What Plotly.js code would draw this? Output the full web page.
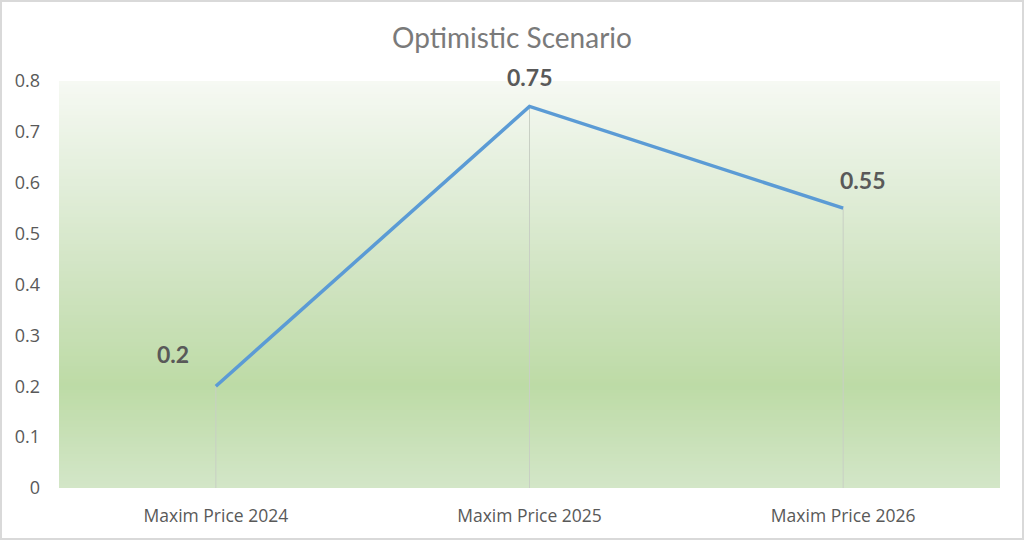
<!DOCTYPE html>
<html>
<head>
<meta charset="utf-8">
<script src="https://cdn.plot.ly/plotly-3.0.1.min.js"></script>
<style>
  html, body { margin: 0; padding: 0; background: #fff; }
  #wrap { position: relative; width: 1024px; height: 540px; }
  #chart { width: 1024px; height: 540px; }
  #frame { position: absolute; left: 0; top: 0; width: 1024px; height: 540px; box-sizing: border-box; border: 2px solid #d9d9d9; pointer-events: none; }
</style>
</head>
<body>
<div id="wrap"><div id="chart"></div><div id="frame"></div></div>
<script>
// ---- data ----
const categories = ["Maxim Price 2024", "Maxim Price 2025", "Maxim Price 2026"];
const prices = [0.2, 0.75, 0.55];
const yTickValues = [0, 0.1, 0.2, 0.3, 0.4, 0.5, 0.6, 0.7, 0.8];
const yTickLabels = ["0", "0.1", "0.2", "0.3", "0.4", "0.5", "0.6", "0.7", "0.8"];
const chartTitle = "Optimistic Scenario";

// ---- styling ----
const labelOffsets = [[-43, 32], [0, 29], [19, 28]]; // pixel offsets of data labels
const gradientStops = [ // [fraction from bottom, colour]
  [0.0, [211, 230, 200]],
  [0.25, [189, 219, 166]],
  [0.5, [207, 227, 192]],
  [0.75, [226, 238, 218]],
  [1.0, [246, 249, 243]]
];
function colourAt(f) {
  for (let i = 0; i < gradientStops.length - 1; i++) {
    const a = gradientStops[i], b = gradientStops[i + 1];
    if (f >= a[0] && f <= b[0]) {
      const t = (f - a[0]) / (b[0] - a[0]);
      const c = a[1].map((v, k) => Math.round(v + (b[1][k] - v) * t));
      return `rgb(${c[0]},${c[1]},${c[2]})`;
    }
  }
  return 'rgb(246,249,243)';
}
const shapes = [];
const nStrips = 120;
for (let i = 0; i < nStrips; i++) {
  const y0 = i / nStrips, y1 = (i + 1) / nStrips + 0.002;
  shapes.push({
    type: 'rect', xref: 'paper', yref: 'paper', x0: 0, x1: 1, y0: y0, y1: Math.min(y1, 1),
    fillcolor: colourAt((i + 0.5) / nStrips), line: { width: 0 }, layer: 'below'
  });
}

const trace = {
  x: categories,
  y: prices,
  type: 'scatter',
  mode: 'lines',
  line: { color: '#5b9bd5', width: 3.5 },
  error_y: {
    type: 'data', symmetric: false,
    array: prices.map(() => 0), arrayminus: prices,
    color: '#c8cfc4', thickness: 1, width: 0
  },
  hoverinfo: 'none',
  cliponaxis: false
};

const annotations = categories.map((c, i) => ({
  x: c, y: prices[i], xref: 'x', yref: 'y',
  text: '<b>' + prices[i] + '</b>',
  showarrow: false,
  xshift: labelOffsets[i][0], yshift: labelOffsets[i][1],
  font: { family: 'Lato, "Open Sans", sans-serif', size: 23, color: '#595959' }
}));

const layout = {
  width: 1024, height: 540,
  margin: { l: 59, r: 24, t: 81, b: 52 },
  paper_bgcolor: '#ffffff',
  plot_bgcolor: 'rgba(0,0,0,0)',
  showlegend: false,
  title: {
    text: chartTitle, x: 0.5, xanchor: 'center', y: 0.93, yanchor: 'middle',
    font: { family: 'Lato, "Open Sans", sans-serif', size: 28, color: '#7a7a7a' }
  },
  xaxis: {
    type: 'category', range: [-0.5, 2.5], showgrid: false, zeroline: false, showline: false,
    ticks: '', ticklabelstandoff: 15,
    tickfont: { family: '"Open Sans", sans-serif', size: 17.5, color: '#595959' },
    fixedrange: true
  },
  yaxis: {
    range: [0, 0.8], showgrid: false, zeroline: false, showline: false,
    tickvals: yTickValues, ticktext: yTickLabels, ticks: '',
    tickfont: { family: '"Open Sans", sans-serif', size: 18, color: '#595959' },
    ticklabelstandoff: 18, fixedrange: true
  },
  shapes: shapes,
  annotations: annotations
};

Plotly.newPlot('chart', [trace], layout, { displayModeBar: false, staticPlot: true });
</script>
</body>
</html>
